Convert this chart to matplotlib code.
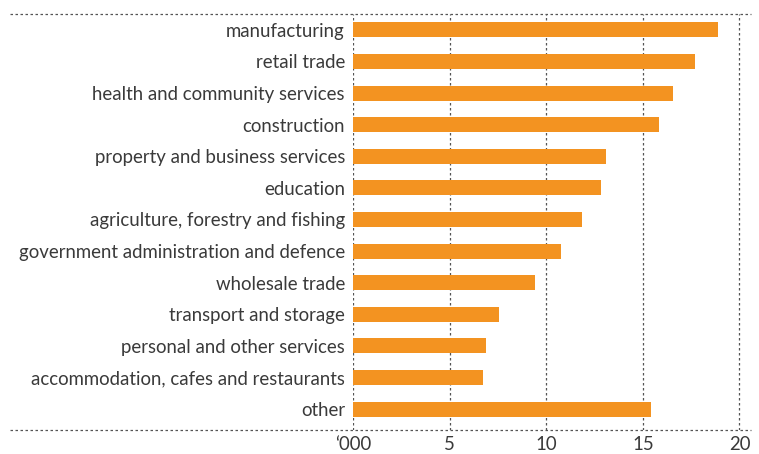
import numpy as np
import matplotlib
matplotlib.use("Agg")
import matplotlib.pyplot as plt

plt.rcParams['font.family'] = ['Lato', 'DejaVu Sans']

industries = [
    "manufacturing",
    "retail trade",
    "health and community services",
    "construction",
    "property and business services",
    "education",
    "agriculture, forestry and fishing",
    "government administration and defence",
    "wholesale trade",
    "transport and storage",
    "personal and other services",
    "accommodation, cafes and restaurants",
    "other",
]
workers = [18.9, 17.7, 16.55, 15.85, 13.1, 12.85, 11.85, 10.77, 9.42, 7.55, 6.88, 6.72, 15.42]
xticks = [0, 5, 10, 15, 20]
xticklabels = ["\u2018000", "5", "10", "15", "20"]

orange = "#F39321"
grey = "#3a3a3a"
grid = "#555555"

fig = plt.figure(figsize=(7.59, 4.54), dpi=100)
ax = fig.add_axes([0.4655, 0.0529, 0.524, 0.9163])

y = np.arange(len(industries))
ax.barh(y, workers, height=0.475, color=orange, zorder=3)

ax.set_xlim(0, 20.6)
ax.set_ylim(12.66, -0.5)

for v in xticks:
    ax.axvline(v, color=grid, lw=0.9, ls=(0, (2, 2)), zorder=1)

# dotted rules top and bottom run out past the axes to the left
left_ext = (10 - 353.3) / (751 - 353.3)
for yy in (12.66, -0.5):
    ax.axhline(yy, xmin=left_ext, xmax=1.0, color=grid, lw=0.9,
               ls=(0, (2, 2)), clip_on=False, zorder=1)

for s in ax.spines.values():
    s.set_visible(False)

ax.set_yticks(y)
ax.set_yticklabels(industries, fontsize=13.4, color=grey)
ax.tick_params(axis='y', length=0, pad=6)

ax.set_xticks(xticks)
ax.set_xticklabels(xticklabels, fontsize=13.4, color=grey)
ax.tick_params(axis='x', length=0, pad=4)

fig.savefig("out.png", dpi=100)
